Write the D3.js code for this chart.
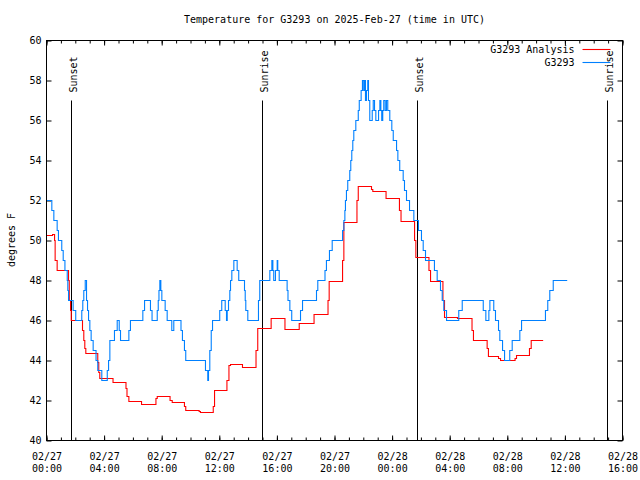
<!DOCTYPE html>
<html><head><meta charset="utf-8">
<script src="https://cdn.jsdelivr.net/npm/d3@7"></script>
<style>
body{margin:0;background:#fff}
svg{display:block}
text{font-family:"DejaVu Sans Mono","Liberation Mono",monospace;font-size:10px;fill:#000}
</style>
</head><body>
<svg id="chart" width="640" height="480"></svg>
<script>
// ---- data (hours after 2025-02-27 00:00 UTC, temperature in °F) ----
const analysisHours = [0,0.42,0.56,0.6,0.74,1.53,1.58,1.67,1.72,2.5,
  2.59,2.66,2.73,3.56,3.63,3.7,4.62,5.52,5.59,5.72,
  6.6,7.6,7.69,8.58,8.73,9.58,9.67,10.6,10.69,11.58,
  11.67,12.53,12.67,12.78,13.61,14.55,14.67,15.6,16.56,17.55,
  18.58,19.55,19.63,20.56,20.65,21.56,21.65,22.57,22.66,23.58,
  24.51,24.62,25.56,25.65,26.56,26.67,27.53,27.64,28.54,29.55,
  29.65,30.6,30.69,31.39,31.53,32.54,32.64,33.54,33.66,34.49];
const analysisTemps = [50.25,50.3,50.0,49.0,48.5,48.0,47.0,46.5,46.0,45.5,
  45.0,44.6,44.35,43.9,43.4,43.1,42.9,42.6,42.2,41.95,
  41.8,42.1,42.2,42.0,41.9,41.7,41.5,41.45,41.4,41.7,
  42.5,43.0,43.75,43.8,43.65,44.5,45.6,46.1,45.55,45.85,
  46.3,47.0,47.95,49.0,50.9,52.0,52.7,52.55,52.45,52.1,
  51.5,50.95,50.0,49.15,48.5,47.95,47.0,46.15,46.1,45.5,
  45.0,44.6,44.2,44.1,44.0,44.1,44.25,44.6,45.0,45.0];

const obsHours = [0,0.37,0.51,0.74,0.83,1.06,1.16,1.28,1.44,1.48,
  1.53,1.85,2.03,2.45,2.52,2.59,2.69,2.78,2.85,2.92,
  3.01,3.1,3.24,3.44,3.56,3.84,4.22,4.31,4.4,4.72,
  4.91,5.05,5.14,5.72,5.83,6.69,6.81,7.22,7.33,7.69,
  7.76,7.81,7.87,7.94,8.01,8.24,8.38,8.7,8.84,9.34,
  9.44,9.58,9.67,11.04,11.2,11.25,11.34,11.44,11.53,12.03,
  12.17,12.41,12.5,12.55,12.64,12.73,12.78,12.87,13.01,13.24,
  13.35,13.75,13.8,13.84,13.98,14.72,14.81,15.51,15.65,15.72,
  15.78,15.9,16.02,16.06,16.16,16.71,16.77,16.9,17.03,17.64,
  17.78,18.75,18.84,19.34,19.44,19.65,19.84,20.56,20.65,20.72,
  20.76,20.83,20.92,21.06,21.13,21.2,21.27,21.34,21.48,21.65,
  21.72,21.85,21.94,22.03,22.1,22.15,22.22,22.31,22.36,22.45,
  22.62,22.69,22.78,22.87,23.06,23.15,23.22,23.28,23.35,23.42,
  23.52,23.61,23.7,23.84,23.98,24.08,24.31,24.4,24.53,24.77,
  24.86,25.0,25.21,25.51,25.83,26.04,26.16,26.32,26.94,27.13,
  27.36,27.48,27.59,27.78,28.63,28.87,30.33,30.51,30.72,30.79,
  31.06,31.18,31.39,31.48,31.67,31.81,32.17,32.34,32.87,32.99,
  34.65,34.81,34.95,35.19,36.16];
const obsTemps = [52,51.5,51,50.5,50,49.5,49,48.5,48,47.5,
  47,46.5,46,46.5,47,47.5,48,47,46.5,46,
  45.5,45,44.5,44,43.5,43,43.5,44,45,45.5,
  46,45.5,45,45.5,46,46.5,47,46.5,46,46.5,
  47,47.5,48,47.5,47,46.5,46,45.5,46,45.5,
  45,44.5,44,43.5,43,43.5,44.5,45.5,46,46.5,
  47,46.5,46,46.5,47,47.5,48,48.5,49,48.5,
  48,47.5,47,46.5,46,47,48,48.5,49,48.5,
  48,48.5,49,48.5,48,47.5,47,46.5,46,46.5,
  47,47.5,48,48.5,49,49.5,50,50.5,51,51.5,
  52,52.5,53,53.5,54,54.5,55,55.5,56,56.5,
  57,57.5,58,57.5,58,57,57.5,58,57,56,
  56.5,57,56.5,56,56.5,57,56.5,56,56.5,57,
  56.5,57,56.5,56,55.5,55,54.5,54,53.5,53,
  52.5,52,51.5,51,50.5,50,49.5,49,48.5,48,
  47.5,47,46.5,46,46.5,47,46.5,46,46.5,47,
  46.5,46,45.5,45,44.5,44,44.5,45,45.5,46,
  46.5,47,47.5,48,48];

const sunLabels = ["Sunset","Sunrise","Sunset","Sunrise"];
const sunHours  = [1.77, 15.01, 25.79, 38.98];

const yTickValues = [40,42,44,46,48,50,52,54,56,58,60];
const seriesNames = ["G3293 Analysis","G3293"];
const seriesColors = ["#ff0000","#0080ff"];
const titleText = "Temperature for G3293 on 2025-Feb-27 (time in UTC)";
const yLabelText = "degrees F";

// ---- helpers ----
const t0 = Date.UTC(2025,1,27,0,0);
const toDate = h => new Date(t0 + h*3600e3);
const mk = (hs, ts) => hs.slice(0, Math.min(hs.length, ts.length)).map((h,i)=>({date:toDate(h), v:ts[i]}));
const series = [mk(analysisHours, analysisTemps), mk(obsHours, obsTemps)];

// ---- layout ----
const L = 46, R = 622, T = 40, B = 440;
const svg = d3.select("#chart");
const g = svg.append("g").attr("transform","translate(0.5,0.5)");

const x = d3.scaleUtc().domain([toDate(0), toDate(40)]).range([L, R]);
const y = d3.scaleLinear().domain([40,60]).range([B, T]);

// minor x ticks (hourly) bottom & top
const hourly = x.ticks(d3.utcHour.every(1));
g.append("g").attr("transform",`translate(0,${B})`)
  .call(d3.axisBottom(x).tickValues(hourly).tickSizeInner(-3).tickSizeOuter(0).tickFormat(""))
  .call(a=>a.select(".domain").remove());
g.append("g").attr("transform",`translate(0,${T})`)
  .call(d3.axisTop(x).tickValues(hourly).tickSizeInner(-3).tickSizeOuter(0).tickFormat(""))
  .call(a=>a.select(".domain").remove());

// major x ticks (4h) with two-line labels
const major = x.ticks(d3.utcHour.every(4));
const fDay = d3.utcFormat("%m/%d"), fTime = d3.utcFormat("%H:%M");
const xb = g.append("g").attr("transform",`translate(0,${B})`)
  .call(d3.axisBottom(x).tickValues(major).tickSizeInner(-5).tickSizeOuter(0).tickPadding(0).tickFormat(""))
  .call(a=>a.select(".domain").remove());
xb.selectAll(".tick").each(function(d){
  const t = d3.select(this).select("text");
  t.attr("y",null).attr("dy",null).text(null);
  t.append("tspan").attr("x",0).attr("y",19.5).text(fDay(d));
  t.append("tspan").attr("x",0).attr("y",31.5).text(fTime(d));
});
g.append("g").attr("transform",`translate(0,${T})`)
  .call(d3.axisTop(x).tickValues(major).tickSizeInner(-5).tickSizeOuter(0).tickFormat(""))
  .call(a=>a.select(".domain").remove());

// y axes
g.append("g").attr("transform",`translate(${L},0)`)
  .call(d3.axisLeft(y).tickValues(yTickValues).tickSizeInner(-5).tickSizeOuter(0).tickPadding(5).tickFormat(d3.format("d")))
  .call(a=>a.select(".domain").remove());
g.append("g").attr("transform",`translate(${R},0)`)
  .call(d3.axisLeft(y).tickValues(yTickValues).tickSizeInner(5).tickSizeOuter(0).tickFormat(""))
  .call(a=>a.select(".domain").remove());

svg.selectAll(".tick line").attr("stroke","#000");
svg.selectAll(".tick text").attr("fill","#000").style("font-family",'"DejaVu Sans Mono","Liberation Mono",monospace').style("font-size","10px");

// sunrise / sunset lines
sunHours.forEach((h,i)=>{
  const xp = Math.round(x(toDate(h)));
  g.append("line").attr("x1",xp).attr("x2",xp).attr("y1",B).attr("y2",B-340).attr("stroke","#000").attr("stroke-width",1);
  g.append("text").attr("transform",`translate(${xp+5.5},92) rotate(-90)`).attr("text-anchor","start").text(sunLabels[i]);
});

// series
const line = d3.line().x(d=>x(d.date)).y(d=>y(d.v)).curve(d3.curveStepAfter);
series.forEach((s,i)=>{
  g.append("path").datum(s).attr("d",line).attr("fill","none")
   .attr("stroke",seriesColors[i]).attr("stroke-width",1.1);
});

// border
g.append("rect").attr("x",L).attr("y",T).attr("width",R-L).attr("height",B-T)
  .attr("fill","none").attr("stroke","#000").attr("stroke-width",1);

// legend
seriesNames.forEach((n,i)=>{
  const yy = 49 + i*13;
  g.append("text").attr("x",574).attr("y",yy+3.5).attr("text-anchor","end").text(n);
  g.append("line").attr("x1",582).attr("x2",610).attr("y1",yy).attr("y2",yy).attr("stroke",seriesColors[i]).attr("stroke-width",1.1);
});

// title and y label
svg.append("text").attr("x",(L+R)/2+0.5).attr("y",23).attr("text-anchor","middle").text(titleText);
svg.append("text").attr("transform",`translate(14.5,${(T+B)/2}) rotate(-90)`).attr("text-anchor","middle").text(yLabelText);
</script>
</body></html>
